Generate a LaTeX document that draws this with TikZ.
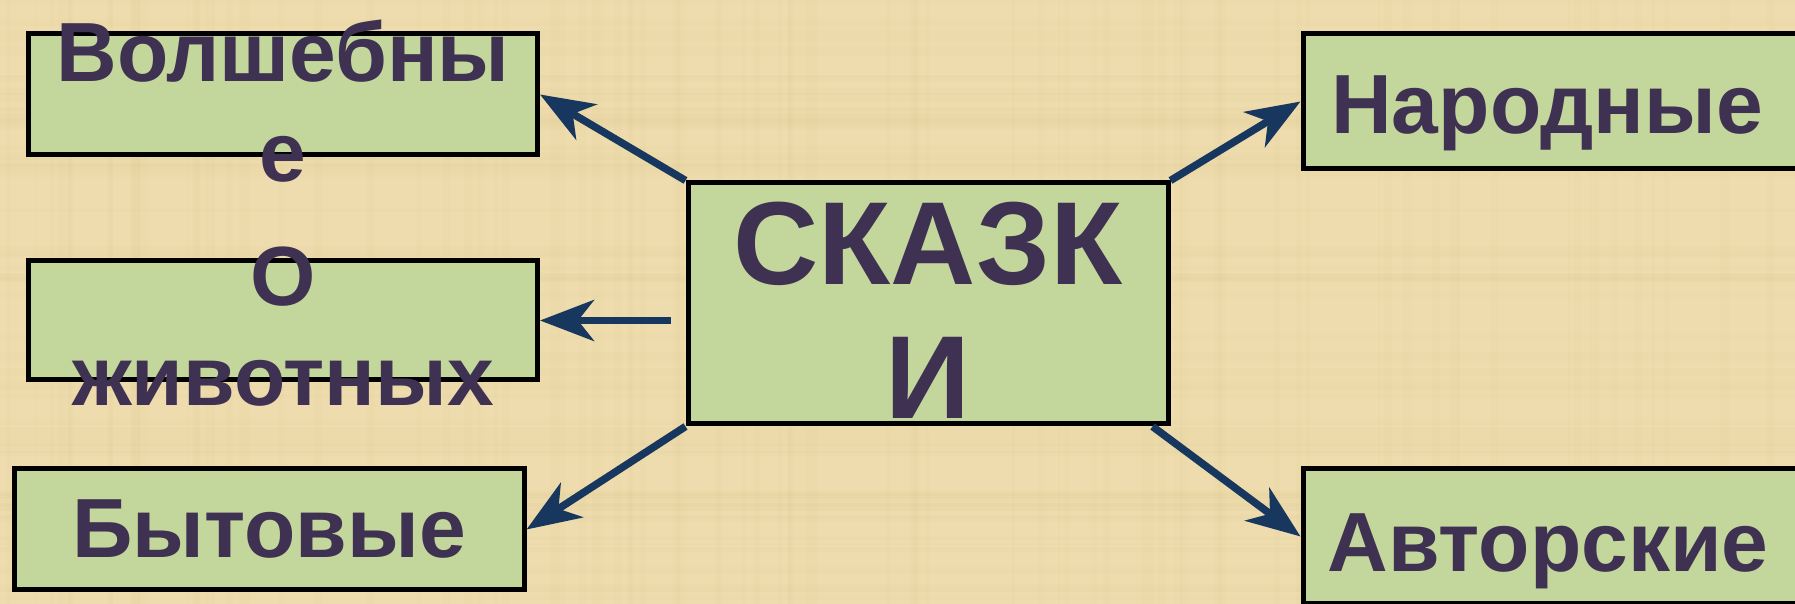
\documentclass[tikz,border=0pt]{standalone}
\usepackage{fontspec}
\setmainfont{Liberation Sans}
\usepackage{xcolor}
\usepackage{tikz}
\usetikzlibrary{arrows.meta}
\usetikzlibrary{positioning,calc}

\definecolor{parchment}{HTML}{EFDCAE}
\definecolor{parchmentdark}{HTML}{D9C28A}
\definecolor{boxgreen}{HTML}{C3D69B}
\definecolor{textpurple}{HTML}{3F3151}
\definecolor{arrowblue}{HTML}{17375E}

\tikzset{
  genrebox/.style={draw=black, line width=0.5mm, fill=boxgreen, rectangle, inner sep=0pt},
  genretext/.style={text=textpurple, font=\fontsize{23.9}{28.5}\selectfont\bfseries, align=center, inner sep=0pt},
  bigtext/.style={text=textpurple, font=\fontsize{33.6}{38.1}\selectfont\bfseries, align=center, inner sep=0pt},
  genrearrow/.style={draw=arrowblue, line width=0.75mm, -{Stealth[length=5.4mm,width=4.1mm,inset=1.6mm]}}
}

\begin{document}
\begin{tikzpicture}[x=0.1mm,y=-0.1mm]
	\fill[parchment] (0,0) rectangle (1795,604);
	\clip (0,0) rectangle (1795,604);
	\pgfmathsetseed{7}
	\foreach \i in {1,...,90}{
		\pgfmathsetmacro{\px}{1795*rnd}
		\pgfmathsetmacro{\pw}{2+7*rnd}
		\fill[parchmentdark, opacity=0.07] (\px,0) rectangle ++(\pw,604);
	}
	\foreach \i in {1,...,60}{
		\pgfmathsetmacro{\py}{604*rnd}
		\pgfmathsetmacro{\ph}{2+7*rnd}
		\fill[parchmentdark, opacity=0.07] (0,\py) rectangle ++(1795,\ph);
	}
	\node[genrebox, minimum width=48mm, minimum height=24.1mm] (tales) at (928,303.5) {};
	\node[genrebox, minimum width=50.9mm, minimum height=12.1mm] (magic) at (283,94.5) {};
	\node[genrebox, minimum width=50.9mm, minimum height=11.9mm] (animals) at (283,320.5) {};
	\node[genrebox, minimum width=51mm, minimum height=12.1mm] (everyday) at (269,529.5) {};
	\node[genrebox, minimum width=50mm, minimum height=13.5mm] (folk) at (1553,101.5) {};
	\node[genrebox, minimum width=50mm, minimum height=13.5mm] (author) at (1553,536.5) {};
	\node[genretext] (magictext) at ($(magic.center)+(0,7)$) {Волшебны\\е};
	\node[genretext] (animalstext) at ($(animals.center)+(0,6)$) {О\\животных};
	\node[genretext] (everydaytext) at (everyday.center) {Бытовые};
	\node[genretext] (folktext) at ($(folk.center)+(-6,12)$) {Народные};
	\node[genretext] (authortext) at ($(author.center)+(-5,15)$) {Авторские};
	\node[bigtext] (talestext) at ($(tales.center)+(0,7)$) {СКАЗК\\И};
	\coordinate (animalsstart) at ($(tales.west |- animals.east)+(-15,0)$);
	\coordinate (authorstart) at ($(tales.south east)+(-18,0)$);
	\draw[genrearrow] (tales.north west) -- (magic.east);
	\draw[genrearrow] (animalsstart) -- (animals.east);
	\draw[genrearrow] (tales.south west) -- (everyday.east);
	\draw[genrearrow] (tales.north east) -- (folk.west);
	\draw[genrearrow] (authorstart) -- (author.west);
\end{tikzpicture}
\end{document}
